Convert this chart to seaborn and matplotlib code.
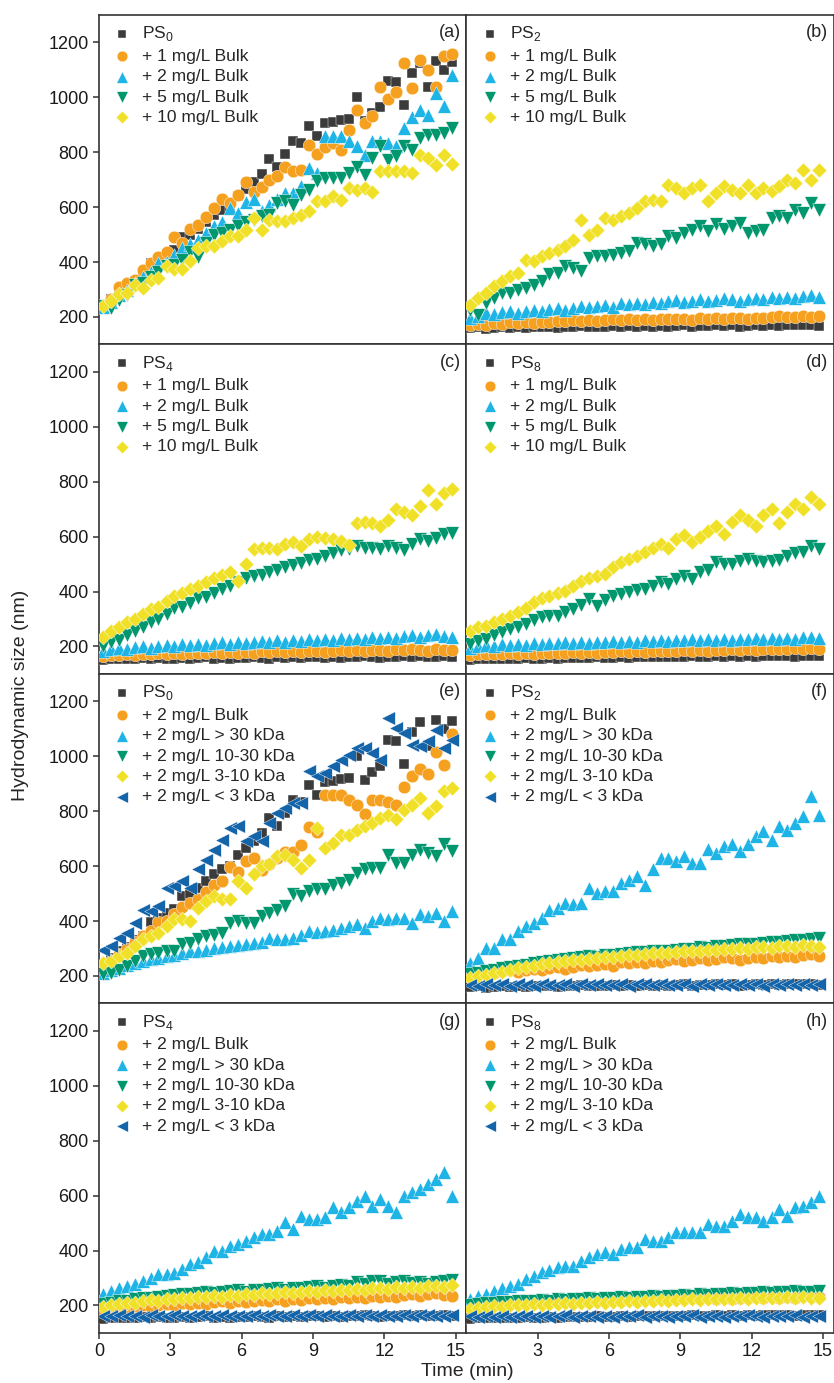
import numpy as np
import pandas as pd
import seaborn as sns
import matplotlib.pyplot as plt

sns.set_style("ticks")
plt.rcParams["font.family"] = ["Liberation Sans", "DejaVu Sans"]
plt.rcParams["mathtext.fontset"] = "custom"
plt.rcParams["mathtext.rm"] = "Liberation Sans"

# sampling times (min), one DLS reading every 20 s
time = np.round(np.arange(45) / 3 + 0.17, 2)

# controls (same curve shown in the top and bottom blocks)
ps0 = [240, 265, 290, 305, 330, 345, 395, 410, 430, 445, 490, 500, 520, 545, 570,
       590, 600, 640, 665, 690, 720, 775, 745, 795, 840, 835, 895, 860, 905, 910,
       918, 920, 1000, 915, 942, 965, 1060, 1055, 972, 1088, 1125, 1037, 1133, 1098, 1130]
ps2 = [160, 162, 158, 161, 163, 160, 164, 161, 162, 165, 163, 160, 164, 162, 166,
       163, 165, 162, 167, 164, 166, 163, 168, 165, 167, 164, 166, 169, 165, 168,
       166, 170, 167, 169, 165, 168, 170, 167, 171, 168, 170, 172, 169, 171, 168]
ps4 = [152, 155, 153, 156, 154, 157, 155, 158, 154, 156, 159, 155, 157, 160, 156,
       158, 155, 159, 157, 161, 158, 156, 160, 157, 162, 158, 160, 163, 159, 161,
       158, 162, 160, 164, 161, 159, 163, 160, 164, 162, 165, 161, 163, 166, 162]
ps8 = [152, 154, 153, 155, 154, 156, 155, 157, 156, 155, 158, 156, 157, 159, 157,
       158, 160, 158, 159, 161, 159, 160, 162, 160, 161, 163, 161, 162, 164, 162,
       163, 165, 163, 164, 162, 165, 163, 164, 166, 164, 165, 163, 166, 164, 165]

# PS0 + bulk (a)
ps0_b1 = [240, 265, 310, 325, 335, 370, 395, 420, 435, 490, 470, 520, 535, 565, 598,
          628, 615, 645, 690, 655, 675, 700, 712, 745, 730, 736, 825, 795, 820, 833,
          808, 882, 955, 908, 933, 1037, 993, 1020, 1124, 1034, 1136, 1098, 1037, 1150, 1157]
ps0_b2 = [235, 255, 280, 300, 325, 345, 365, 395, 400, 425, 450, 464, 480, 505, 530,
          545, 597, 580, 620, 630, 585, 607, 630, 652, 652, 676, 742, 724, 858, 858,
          858, 840, 821, 791, 840, 840, 833, 821, 888, 930, 955, 936, 1015, 967, 1082]
ps0_b5 = [240, 232, 262, 280, 318, 324, 345, 365, 385, 391, 409, 438, 418, 470, 500,
          506, 518, 530, 545, 555, 567, 573, 615, 621, 609, 645, 664, 694, 706, 706,
          706, 724, 748, 718, 779, 821, 773, 785, 821, 809, 852, 864, 864, 870, 888]
ps0_b10 = [239, 257, 282, 288, 318, 306, 336, 342, 385, 373, 373, 403, 452, 458, 458,
           476, 494, 494, 518, 561, 518, 555, 548, 548, 561, 573, 585, 621, 621, 639,
           627, 670, 664, 670, 654, 730, 730, 730, 730, 724, 791, 779, 752, 791, 758]

# PS2 + bulk (b)
ps2_b1 = [170, 175, 172, 178, 176, 180, 178, 182, 179, 183, 181, 185, 184, 188, 186,
          190, 187, 189, 192, 188, 191, 190, 193, 189, 192, 194, 191, 193, 190, 195,
          192, 196, 193, 197, 195, 194, 198, 196, 200, 203, 199, 201, 204, 200, 205]
ps2_b2 = [195, 205, 215, 212, 218, 220, 215, 222, 225, 220, 228, 232, 226, 234, 240,
          236, 240, 245, 238, 250, 248, 252, 246, 255, 250, 258, 262, 255, 260, 265,
          258, 262, 268, 264, 260, 266, 270, 265, 272, 268, 274, 270, 276, 280, 272]
ps2_b5 = [227, 209, 251, 270, 288, 288, 300, 306, 318, 330, 355, 361, 385, 379, 367,
          415, 421, 421, 427, 433, 439, 470, 464, 458, 464, 494, 488, 506, 518, 530,
          512, 540, 521, 530, 542, 506, 512, 518, 561, 567, 561, 591, 579, 615, 591]
ps2_b10 = [245, 270, 288, 312, 330, 348, 361, 409, 403, 421, 433, 445, 458, 482, 555,
           500, 518, 561, 555, 567, 579, 597, 621, 627, 621, 682, 670, 652, 670, 682,
           621, 652, 676, 664, 652, 682, 652, 670, 658, 676, 700, 688, 736, 700, 736]

# PS4 + bulk (c)
ps4_b1 = [165, 170, 168, 172, 170, 174, 171, 175, 173, 176, 174, 178, 175, 177, 180,
          176, 179, 177, 181, 178, 182, 179, 183, 180, 184, 181, 185, 182, 180, 184,
          186, 183, 187, 184, 186, 188, 185, 189, 186, 190, 187, 185, 189, 186, 188]
ps4_b2 = [185, 190, 195, 192, 198, 200, 196, 202, 205, 200, 208, 204, 210, 206, 212,
          215, 210, 216, 213, 218, 220, 215, 222, 218, 225, 220, 226, 224, 228, 222,
          230, 226, 232, 228, 235, 230, 236, 232, 238, 242, 236, 240, 245, 238, 235]
ps4_b5 = [200, 215, 225, 240, 255, 270, 290, 300, 320, 340, 345, 360, 375, 380, 395,
          410, 420, 435, 450, 455, 460, 470, 480, 490, 495, 505, 515, 520, 530, 540,
          550, 555, 565, 560, 560, 555, 565, 560, 550, 575, 590, 585, 595, 610, 615]
ps4_b10 = [235, 255, 270, 290, 300, 320, 335, 345, 365, 385, 395, 410, 420, 435, 450,
           460, 470, 440, 500, 555, 560, 560, 555, 575, 580, 565, 590, 600, 595, 590,
           585, 570, 650, 655, 650, 640, 660, 700, 690, 680, 710, 770, 720, 760, 775]

# PS8 + bulk (d)
ps8_b1 = [170, 172, 171, 174, 172, 175, 173, 176, 174, 177, 175, 178, 176, 179, 177,
          180, 178, 181, 179, 182, 180, 183, 181, 184, 182, 185, 183, 186, 184, 187,
          185, 188, 186, 189, 187, 190, 188, 191, 189, 192, 190, 193, 191, 194, 192]
ps8_b2 = [195, 200, 205, 203, 208, 206, 210, 207, 212, 209, 214, 211, 215, 212, 217,
          214, 218, 215, 220, 217, 221, 218, 222, 219, 224, 220, 225, 222, 226, 223,
          227, 224, 228, 225, 229, 226, 230, 227, 231, 228, 232, 229, 233, 236, 230]
ps8_b5 = [209, 220, 227, 240, 252, 262, 270, 282, 295, 306, 310, 312, 325, 336, 350,
          373, 348, 370, 385, 390, 397, 405, 409, 420, 433, 427, 445, 457, 445, 470,
          480, 506, 500, 500, 510, 518, 510, 506, 512, 515, 530, 540, 545, 565, 555]
ps8_b10 = [257, 270, 276, 290, 300, 312, 324, 340, 361, 375, 385, 395, 403, 420, 439,
           450, 458, 464, 490, 506, 518, 530, 545, 560, 575, 560, 590, 605, 580, 600,
           620, 640, 610, 655, 680, 660, 640, 680, 700, 650, 690, 720, 700, 745, 720]

# 2 mg/L size fractions (e-h)
ps0_gt30 = [212, 220, 230, 240, 248, 255, 262, 266, 272, 278, 285, 290, 290, 296, 303,
            305, 309, 312, 315, 321, 325, 339, 333, 336, 339, 350, 363, 360, 363, 369,
            375, 382, 388, 375, 400, 412, 406, 412, 412, 394, 424, 418, 430, 400, 436]
ps0_10_30 = [206, 212, 220, 236, 254, 272, 279, 285, 290, 290, 315, 321, 333, 345, 351,
             357, 394, 400, 394, 394, 418, 430, 442, 455, 497, 491, 509, 515, 515, 533,
             539, 551, 576, 588, 594, 594, 642, 612, 612, 642, 660, 648, 636, 679, 654]
ps0_3_10 = [248, 254, 272, 285, 309, 333, 345, 357, 382, 406, 406, 400, 449, 473, 491,
            479, 479, 545, 521, 570, 600, 606, 636, 642, 624, 594, 624, 739, 667, 685,
            715, 715, 733, 745, 758, 776, 788, 770, 806, 824, 848, 794, 818, 873, 885]
ps0_lt3 = [296, 309, 339, 357, 394, 442, 436, 455, 521, 527, 545, 521, 588, 624, 660,
           697, 739, 745, 691, 709, 691, 758, 794, 812, 830, 830, 945, 927, 939, 963,
           988, 1006, 1030, 1030, 1012, 988, 1139, 1103, 1085, 1042, 1036, 1054, 1097, 1030, 1060]

ps2_gt30 = [248, 266, 303, 303, 333, 333, 363, 382, 394, 412, 442, 449, 467, 461, 467,
            521, 503, 509, 509, 539, 551, 564, 533, 588, 630, 630, 618, 636, 612, 612,
            661, 648, 673, 679, 655, 679, 709, 727, 697, 745, 733, 758, 782, 855, 788]
ps2_10_30 = [206, 212, 218, 222, 228, 232, 238, 240, 246, 250, 255, 258, 262, 265, 268,
             272, 270, 275, 278, 280, 284, 286, 288, 290, 292, 290, 296, 298, 300, 305,
             302, 308, 310, 312, 315, 318, 315, 320, 322, 325, 328, 330, 332, 335, 340]
ps2_3_10 = [194, 200, 205, 210, 215, 222, 228, 232, 238, 242, 246, 250, 254, 258, 260,
            262, 265, 268, 270, 274, 276, 278, 280, 282, 285, 283, 288, 290, 292, 290,
            295, 296, 298, 300, 302, 298, 304, 306, 303, 308, 310, 306, 312, 308, 305]
ps2_lt3 = [168, 165, 170, 166, 169, 164, 171, 167, 165, 170, 166, 168, 172, 165, 169,
           167, 171, 166, 168, 170, 165, 169, 172, 167, 170, 166, 168, 171, 165, 169,
           167, 172, 168, 166, 170, 167, 171, 165, 169, 168, 172, 166, 170, 167, 169]

ps4_gt30 = [242, 252, 262, 272, 279, 290, 300, 315, 315, 320, 333, 351, 357, 378, 400,
            400, 418, 424, 436, 448, 460, 460, 473, 505, 478, 527, 515, 515, 521, 557,
            539, 560, 582, 600, 564, 588, 564, 539, 600, 612, 624, 642, 660, 685, 600]
ps4_10_30 = [205, 210, 215, 218, 222, 226, 228, 232, 235, 238, 240, 242, 245, 248, 246,
             250, 252, 255, 250, 256, 258, 260, 262, 258, 265, 262, 268, 270, 265, 272,
             275, 270, 285, 278, 290, 288, 280, 285, 290, 282, 286, 280, 284, 288, 292]
ps4_3_10 = [195, 200, 205, 210, 208, 215, 220, 218, 225, 222, 228, 226, 232, 230, 235,
            232, 238, 236, 240, 238, 244, 242, 246, 248, 245, 250, 252, 248, 255, 252,
            258, 255, 260, 258, 262, 265, 260, 266, 262, 268, 265, 270, 272, 268, 275]
ps4_lt3 = [162, 160, 164, 161, 163, 159, 165, 162, 160, 164, 161, 163, 166, 160, 162,
           165, 161, 163, 160, 164, 162, 166, 161, 163, 165, 160, 164, 162, 166, 161,
           163, 165, 160, 164, 162, 166, 163, 161, 165, 162, 164, 166, 161, 163, 165]

ps8_gt30 = [224, 233, 242, 254, 263, 272, 279, 296, 309, 321, 330, 339, 345, 345, 363,
            376, 388, 394, 388, 406, 412, 412, 442, 436, 436, 450, 467, 467, 467, 467,
            497, 491, 491, 509, 533, 521, 521, 509, 521, 551, 527, 557, 564, 576, 600]
ps8_10_30 = [200, 204, 208, 210, 212, 214, 216, 218, 216, 220, 218, 222, 220, 224, 222,
             226, 224, 228, 226, 230, 228, 232, 230, 234, 232, 236, 234, 238, 236, 240,
             238, 242, 240, 244, 242, 246, 244, 248, 246, 250, 248, 252, 250, 248, 252]
ps8_3_10 = [188, 192, 195, 198, 196, 200, 202, 200, 204, 202, 206, 204, 208, 206, 210,
            208, 212, 210, 214, 212, 215, 214, 217, 216, 219, 218, 220, 219, 222, 220,
            223, 222, 225, 224, 226, 225, 228, 226, 229, 227, 230, 228, 231, 229, 226]
ps8_lt3 = [160, 158, 162, 159, 161, 157, 163, 160, 158, 162, 159, 161, 164, 158, 160,
           163, 159, 161, 158, 162, 160, 164, 159, 161, 163, 158, 162, 160, 164, 159,
           161, 163, 158, 162, 160, 164, 161, 159, 163, 160, 162, 164, 159, 161, 163]

bulk_labels = ["+ 1 mg/L Bulk", "+ 2 mg/L Bulk", "+ 5 mg/L Bulk", "+ 10 mg/L Bulk"]
frac_labels = ["+ 2 mg/L Bulk", "+ 2 mg/L > 30 kDa", "+ 2 mg/L 10-30 kDa",
               "+ 2 mg/L 3-10 kDa", "+ 2 mg/L < 3 kDa"]
ps_labels = [r"PS$_\mathregular{0}$", r"PS$_\mathregular{2}$",
             r"PS$_\mathregular{4}$", r"PS$_\mathregular{8}$"]

colors = ["#3b3b3b", "#f5a01e", "#1eb4e6", "#00966e", "#f0e128", "#1464aa"]
markers = ["s", "o", "^", "v", "D", "<"]
sizes = [58, 82, 95, 95, 58, 95]

panels = [
    ("(a)", ps_labels[0], [ps0, ps0_b1, ps0_b2, ps0_b5, ps0_b10], bulk_labels),
    ("(b)", ps_labels[1], [ps2, ps2_b1, ps2_b2, ps2_b5, ps2_b10], bulk_labels),
    ("(c)", ps_labels[2], [ps4, ps4_b1, ps4_b2, ps4_b5, ps4_b10], bulk_labels),
    ("(d)", ps_labels[3], [ps8, ps8_b1, ps8_b2, ps8_b5, ps8_b10], bulk_labels),
    ("(e)", ps_labels[0], [ps0, ps0_b2, ps0_gt30, ps0_10_30, ps0_3_10, ps0_lt3], frac_labels),
    ("(f)", ps_labels[1], [ps2, ps2_b2, ps2_gt30, ps2_10_30, ps2_3_10, ps2_lt3], frac_labels),
    ("(g)", ps_labels[2], [ps4, ps4_b2, ps4_gt30, ps4_10_30, ps4_3_10, ps4_lt3], frac_labels),
    ("(h)", ps_labels[3], [ps8, ps8_b2, ps8_gt30, ps8_10_30, ps8_3_10, ps8_lt3], frac_labels),
]

fig, axes = plt.subplots(4, 2, figsize=(8.34, 13.83), dpi=100)
fig.subplots_adjust(left=0.1187, right=0.9995, top=0.9892, bottom=0.0362,
                    hspace=0, wspace=0)

for k, (tag, ps_lab, series, labels) in enumerate(panels):
    ax = axes.flat[k]
    labs = [ps_lab] + labels
    for j, (vals, lab) in enumerate(zip(series, labs)):
        df = pd.DataFrame({"t": time, "size": vals})
        sns.scatterplot(data=df, x="t", y="size", ax=ax, marker=markers[j],
                        color=colors[j], s=sizes[j], edgecolor="white",
                        linewidth=0.3, label=lab, zorder=3)
    ax.legend(loc="upper left", frameon=False, fontsize=12.5, markerscale=0.85,
              handlelength=1.6, handletextpad=0.35, labelspacing=0.3,
              borderaxespad=0.3, borderpad=0.25)
    ax.text(0.985, 0.972, tag, transform=ax.transAxes, ha="right", va="top",
            fontsize=13)
    ax.set_xlim(0, 15.45)
    ax.set_ylim(100, 1300)
    ax.set_xticks([0, 3, 6, 9, 12, 15])
    ax.set_yticks([200, 400, 600, 800, 1000, 1200])
    ax.set_xlabel("")
    ax.set_ylabel("")
    for sp in ax.spines.values():
        sp.set_visible(True)
        sp.set_linewidth(1.2)
        sp.set_color("#333333")
    row, col = divmod(k, 2)
    ax.tick_params(axis="both", direction="out", length=4, width=1.1,
                   color="#333333", labelsize=13, labelcolor="#1a1a1a")
    if col == 1:
        ax.tick_params(axis="y", left=False, labelleft=False)
    if row < 3:
        ax.tick_params(axis="x", bottom=False, labelbottom=False)
    elif col == 1:
        ax.set_xticks([3, 6, 9, 12, 15])

fig.text(0.024, 0.497, "Hydrodynamic size (nm)", rotation=90, ha="center",
         va="center", fontsize=14)
fig.text(0.56, 0.008, "Time (min)", ha="center", va="center", fontsize=14)

fig.savefig("out.png", dpi=100)
